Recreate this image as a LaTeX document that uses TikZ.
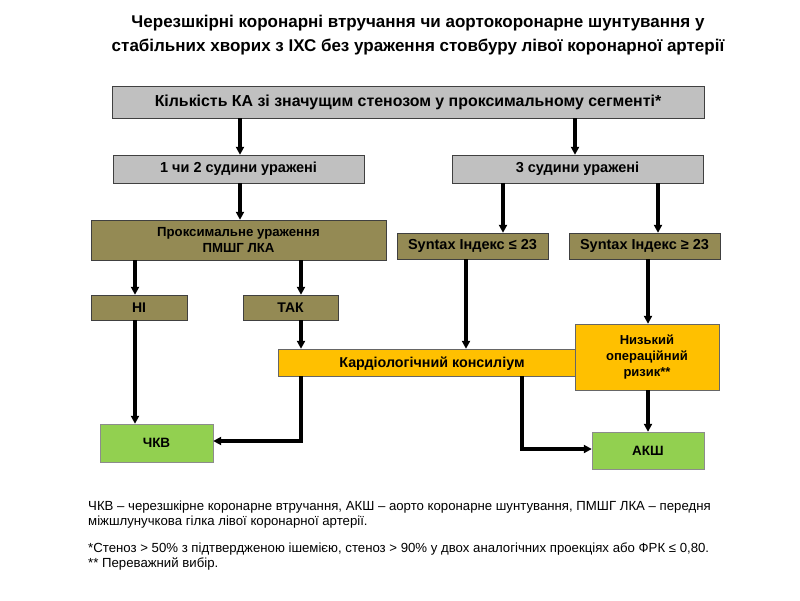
\documentclass[tikz,border=0pt]{standalone}
\usepackage{fontspec}
\setmainfont{Liberation Sans}
\usetikzlibrary{arrows.meta, positioning}
\definecolor{boxgray}{RGB}{192,192,192}
\definecolor{olive}{RGB}{148,138,84}
\definecolor{amber}{RGB}{255,192,0}
\definecolor{leaf}{RGB}{146,208,80}
\newcommand{\boxfont}[1]{\bfseries\fontsize{#1}{16}\selectfont}

\begin{document}
\begin{tikzpicture}[x=1pt, y=-1pt,
  box/.style={draw=black!75, thin, inner sep=0pt, align=center, font=\boxfont{14.5}},
  graybox/.style={box, fill=boxgray},
  olivebox/.style={box, fill=olive},
  amberbox/.style={box, fill=amber, draw=black!60},
  leafbox/.style={box, fill=leaf, draw=black!45},
  arr/.style={-{Triangle[length=8pt, width=8pt]}, line width=3.2pt},
]
  \useasboundingbox (0,0) rectangle (800,600);

  % Title
  \node[align=center, font=\bfseries\fontsize{17}{24}\selectfont] (title) at (418,35)
    {Черезшкірні коронарні втручання чи аортокоронарне шунтування у\\
     стабільних хворих з ІХС без ураження стовбуру лівої коронарної артерії};

  \node[graybox, minimum width=592, minimum height=32, font=\boxfont{15.9}] (count) at (408,102)
    {Кількість КА зі значущим стенозом у проксимальному сегменті*};

  \node[graybox, minimum width=251, minimum height=28] (onetwo) at (238.5,169) {1 чи 2 судини уражені};
  \node[graybox, minimum width=251, minimum height=28] (three) at (577.5,169) {3 судини уражені};

  \node[olivebox, minimum width=295, minimum height=40, font=\boxfont{13.2}] (prox) at (238.5,240)
    {Проксимальне ураження\\ПМШГ ЛКА};
  \node[olivebox, minimum width=151, minimum height=26] (synlow) at (472.5,246) {Syntax Індекс ≤ 23};
  \node[olivebox, minimum width=151, minimum height=26] (synhigh) at (644.5,246) {Syntax Індекс ≥ 23};

  \node[olivebox, minimum width=96, minimum height=25, font=\boxfont{14}] (no) at (139,307.5) {НІ};
  \node[olivebox, minimum width=95, minimum height=25, font=\boxfont{14}] (yes) at (290.5,307.5) {ТАК};

  \node[amberbox, minimum width=312, minimum height=27] (council) at (434,362.5) {};
  \node[font=\boxfont{14.3}] (counciltxt) at (432,363.5) {Кардіологічний консиліум};
  \node[amberbox, minimum width=144, minimum height=66, font=\boxfont{13}] (risk) at (647,357) {Низький\\операційний\\ризик**};

  \node[leafbox, minimum width=113, minimum height=38, font=\boxfont{13.5}] (pci) at (156.5,443) {ЧКВ};
  \node[leafbox, minimum width=112, minimum height=37, font=\boxfont{13.5}] (cabg) at (648,450.5) {АКШ};

  % Arrows
  \draw[arr] (240,0 |- count.south) -- (240,0 |- onetwo.north);
  \draw[arr] (575,0 |- count.south) -- (575,0 |- three.north);
  \draw[arr] (240,0 |- onetwo.south) -- (240,0 |- prox.north);
  \draw[arr] (503,0 |- three.south) -- (503,0 |- synlow.north);
  \draw[arr] (658,0 |- three.south) -- (658,0 |- synhigh.north);
  \draw[arr] (135,0 |- prox.south) -- (135,0 |- no.north);
  \draw[arr] (301,0 |- prox.south) -- (301,0 |- yes.north);
  \draw[arr] (301,0 |- yes.south) -- (301,0 |- council.north);
  \draw[arr] (466,0 |- synlow.south) -- (466,0 |- council.north);
  \draw[arr] (648,0 |- synhigh.south) -- (648,0 |- risk.north);
  \draw[arr] (135,0 |- no.south) -- (135,0 |- pci.north);
  \draw[arr] (648,0 |- risk.south) -- (648,0 |- cabg.north);
  \draw[arr] (301,0 |- council.south) -- (301,441) -- (pci.east |- 0,441);
  \draw[arr] (522,0 |- council.south) -- (522,449) -- (cabg.west |- 0,449);

  % Notes
  \node[anchor=north west, align=left, inner sep=0pt, font=\fontsize{13.2}{15}\selectfont] (notes) at (88,501)
    {ЧКВ – черезшкірне коронарне втручання, АКШ – аорто коронарне шунтування, ПМШГ ЛКА – передня\\
     міжшлунучкова гілка лівої коронарної артерії.\\[12pt]
     *Стеноз > 50\% з підтвердженою ішемією, стеноз > 90\% у двох аналогічних проекціях або ФРК ≤ 0,80.\\
     ** Переважний вибір.};
\end{tikzpicture}
\end{document}
